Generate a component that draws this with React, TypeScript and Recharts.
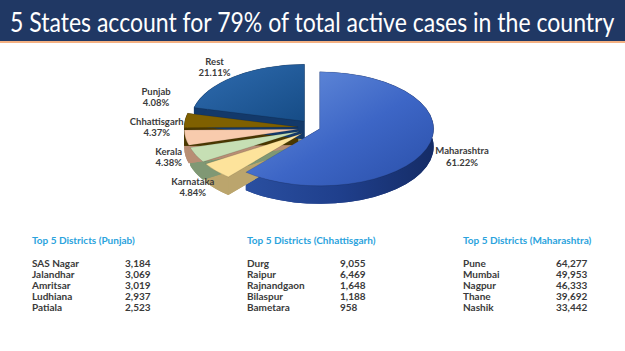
import React from 'react';
import { PieChart, Pie } from 'recharts';

const states = ['Maharashtra', 'Karnataka', 'Kerala', 'Chhattisgarh', 'Punjab', 'Rest'];
const shares = [61.22, 4.84, 4.38, 4.37, 4.08, 21.11];
const topColors = ['url(#mahTop)', '#fde39b', '#c6dfb4', '#f8cbad', '#7f6000', 'url(#restTop)'];
const sideColors = ['#1d3b82', '#bba56d', '#809874', '#b88e74', '#4a3800', '#13396a'];

const punjabDistricts = ['SAS Nagar', 'Jalandhar', 'Amritsar', 'Ludhiana', 'Patiala'];
const punjabCases = [3184, 3069, 3019, 2937, 2523];
const chhDistricts = ['Durg', 'Raipur', 'Rajnandgaon', 'Bilaspur', 'Bametara'];
const chhCases = [9055, 6469, 1648, 1188, 958];
const mahDistricts = ['Pune', 'Mumbai', 'Nagpur', 'Thane', 'Nashik'];
const mahCases = [64277, 49953, 46333, 39692, 33442];

const title = '5 States account for 79% of total active cases in the country';

const data = states.map((name, i) => ({ name, value: shares[i] }));

const CX = 310;
const CY = 123;
const R = 114;
const KY = 0.5;
const DEPTH = 18;
const EXPLODE_MAIN = 5;
const EXPLODE_REST = 17;
const LR = 155;
const LR_RIGHT = 162;
const GAP = 30;
const rad = Math.PI / 180;

const idxOf = (props: any) => {
  const n = props.name ?? props.payload?.name ?? props.payload?.payload?.name;
  return Math.max(0, states.indexOf(n));
};

const pt = (cx: number, cy: number, a: number, dz: number) =>
  `${(cx + R * Math.cos(a * rad)).toFixed(2)},${(cy - R * KY * Math.sin(a * rad) + dz).toFixed(2)}`;

const geom = (props: any) => {
  const i = idxOf(props);
  const ex = i === 0 ? EXPLODE_MAIN : EXPLODE_REST;
  const s = props.startAngle as number;
  const e = props.endAngle as number;
  const mid = (s + e) / 2;
  const cx = (props.cx as number) + ex * Math.cos(mid * rad);
  const cy = (props.cy as number) - ex * KY * Math.sin(mid * rad);
  const large = Math.abs(s - e) > 180 ? 1 : 0;
  const sweep = s > e ? 1 : 0;
  return { s, e, cx, cy, large, sweep, i };
};

const sectorPath = (g: any, dz: number) =>
  `M${g.cx},${g.cy + dz} L${pt(g.cx, g.cy, g.s, dz)} A${R} ${R * KY} 0 ${g.large} ${g.sweep} ${pt(g.cx, g.cy, g.e, dz)} Z`;

const wallParts = (g: any) => {
  const col = sideColors[g.i];
  const band = `M${pt(g.cx, g.cy, g.s, 0)} A${R} ${R * KY} 0 ${g.large} ${g.sweep} ${pt(g.cx, g.cy, g.e, 0)} L${pt(g.cx, g.cy, g.e, DEPTH)} A${R} ${R * KY} 0 ${g.large} ${1 - g.sweep} ${pt(g.cx, g.cy, g.s, DEPTH)} Z`;
  const quad = (a: number) =>
    `M${g.cx},${g.cy} L${pt(g.cx, g.cy, a, 0)} L${pt(g.cx, g.cy, a, DEPTH)} L${g.cx},${g.cy + DEPTH} Z`;
  return (
    <g>
      <path d={sectorPath(g, DEPTH)} fill={col} />
      <path d={quad(g.s)} fill={col} />
      <path d={quad(g.e)} fill={col} />
      <path d={band} fill={g.i === 0 ? 'url(#mahSide)' : col} />
    </g>
  );
};

const WallShape = (props: any) => wallParts(geom(props));

const TopShape = (props: any) => {
  const g = geom(props);
  return <path d={sectorPath(g, 0)} fill={topColors[g.i]} stroke="rgba(0,0,0,0.25)" strokeWidth={0.5} />;
};

const labelLayout = (() => {
  const total = shares.reduce((a, b) => a + b, 0);
  let acc = 0;
  const pos = shares.map((v) => {
    const start = 90 - (acc / total) * 360;
    acc += v;
    const end = 90 - (acc / total) * 360;
    const mid = (start + end) / 2;
    const c = Math.cos(mid * rad);
    const s = Math.sin(mid * rad);
    const x = CX + (c < 0 ? LR : LR_RIGHT) * c;
    const y = s >= 0 ? CY - s * (R * KY + 12) : CY - s * (R * KY + DEPTH + 22);
    return { x, y, left: c < 0 };
  });
  const left = pos
    .map((_, i) => i)
    .filter((i) => pos[i].left)
    .sort((a, b) => pos[b].y - pos[a].y);
  for (let k = 1; k < left.length; k++) {
    const prev = pos[left[k - 1]];
    const cur = pos[left[k]];
    if (prev.y - cur.y < GAP) cur.y = prev.y - GAP;
  }
  return pos;
})();

const renderLabel = (props: any) => {
  const i = idxOf(props);
  const p = labelLayout[i];
  return (
    <text
      x={p.x}
      y={p.y}
      textAnchor="middle"
      fontFamily="Lato, 'Open Sans', sans-serif"
      fontWeight={700}
      fontSize={9.5}
      fill="#3b3b3b"
    >
      <tspan x={p.x} dy={-2}>{states[i]}</tspan>
      <tspan x={p.x} dy={11.5}>{`${shares[i].toFixed(2)}%`}</tspan>
    </text>
  );
};

const fmt = (n: number) => n.toLocaleString('en-IN');

const Table = ({ left, header, names, values }: { left: number; header: string; names: string[]; values: number[] }) => (
  <div style={{ position: 'absolute', left, top: 233, fontFamily: "Lato, 'Open Sans', sans-serif" }}>
    <div style={{ fontSize: 10, fontWeight: 700, color: '#2ba3dd', lineHeight: '14px', whiteSpace: 'nowrap' }}>{header}</div>
    <div style={{ marginTop: 11 }}>
      {names.map((n, i) => (
        <div key={n} style={{ position: 'relative', height: 10.9, lineHeight: '10.9px', fontSize: 10, fontWeight: 700, color: '#3a3a3a', whiteSpace: 'nowrap' }}>
          <span>{n}</span>
          <span style={{ position: 'absolute', left: 93 }}>{fmt(values[i])}</span>
        </div>
      ))}
    </div>
  </div>
);

export default function App() {
  return (
    <div style={{ position: 'absolute', left: 0, top: 0, width: 625, height: 351, background: '#ffffff', overflow: 'hidden' }}>
      <div style={{ position: 'absolute', left: 0, top: 0, width: 625, height: 41, background: '#203864' }} />
      <div style={{ position: 'absolute', left: 0, top: 41, width: 625, height: 2, background: '#f4b183' }} />
      <div
        style={{
          position: 'absolute',
          left: 10,
          top: 5,
          height: 34,
          lineHeight: '34px',
          fontFamily: "Lato, 'Open Sans', sans-serif",
          fontSize: 26,
          color: '#ffffff',
          whiteSpace: 'nowrap',
          transform: 'scaleX(0.885)',
          transformOrigin: '0 50%',
        }}
      >
        {title}
      </div>
      <div style={{ position: 'absolute', left: 0, top: 0 }}>
        <PieChart width={625} height={230}>
          <defs>
            <linearGradient id="mahTop" x1="0" y1="0" x2="1" y2="1">
              <stop offset="0%" stopColor="#6b93de" />
              <stop offset="55%" stopColor="#3d66c6" />
              <stop offset="100%" stopColor="#2a4fa8" />
            </linearGradient>
            <linearGradient id="restTop" x1="0" y1="0" x2="1" y2="1">
              <stop offset="0%" stopColor="#2f6cb0" />
              <stop offset="100%" stopColor="#164c86" />
            </linearGradient>
            <linearGradient id="mahSide" x1="0" y1="0" x2="1" y2="0">
              <stop offset="0%" stopColor="#2a4fa0" />
              <stop offset="50%" stopColor="#1f3f8c" />
              <stop offset="100%" stopColor="#152c66" />
            </linearGradient>
          </defs>
          <Pie
            data={data}
            dataKey="value"
            nameKey="name"
            cx={CX}
            cy={CY}
            outerRadius={R}
            startAngle={90}
            endAngle={-270}
            isAnimationActive={false}
            shape={WallShape}
            stroke="none"
          />
          <Pie
            data={data}
            dataKey="value"
            nameKey="name"
            cx={CX}
            cy={CY}
            outerRadius={R}
            startAngle={90}
            endAngle={-270}
            isAnimationActive={false}
            shape={TopShape}
            stroke="none"
            label={renderLabel}
            labelLine={false}
          />
        </PieChart>
      </div>
      <Table left={32} header="Top 5 Districts (Punjab)" names={punjabDistricts} values={punjabCases} />
      <Table left={247} header="Top 5 Districts (Chhattisgarh)" names={chhDistricts} values={chhCases} />
      <Table left={463} header="Top 5 Districts (Maharashtra)" names={mahDistricts} values={mahCases} />
    </div>
  );
}
